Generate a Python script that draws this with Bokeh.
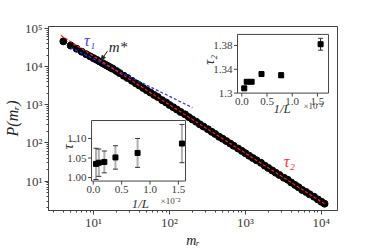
import numpy as np
from bokeh.plotting import figure
from bokeh.models import Range1d, LinearScale, FixedTicker, Arrow, NormalHead
from bokeh.core.properties import value
from bokeh.embed import file_html
from bokeh.resources import INLINE

# ---- main distribution P(m_r) ----
m_r = [4, 5, 6, 7, 8, 9, 10, 11, 12, 13, 14, 15, 16, 17, 18, 20, 22, 25, 28, 32,
       36, 40, 45, 50, 56, 63, 70, 80, 90, 100, 112, 125, 140, 160, 180, 200, 225,
       250, 280, 320, 360, 400, 450, 500, 560, 630, 700, 800, 900, 1000, 1120, 1250,
       1400, 1600, 1800, 2000, 2250, 2500, 2800, 3200, 3600, 4000, 4500, 5000, 5600,
       6300, 7000, 8000, 9000, 10000, 11000]
P_m = [45700, 35500, 29200, 24500, 21100, 18600, 16600, 15000, 13600, 12400, 11500,
       10600, 9890, 9230, 8710, 7670, 6760, 5750, 5010, 4220, 3630, 3200, 2750, 2400,
       2090, 1800, 1600, 1320, 1150, 989, 861, 750, 646, 560, 473, 412, 359, 309, 269,
       229, 195, 172, 145, 129, 112, 96.6, 84.1, 71.6, 61.7, 53.7, 46.2, 40.3, 35.1,
       30.2, 25.4, 22.1, 19.1, 16.6, 14.5, 12.3, 10.9, 9.23, 7.94, 6.92, 5.85, 5.19,
       4.52, 3.90, 3.31, 2.88, 2.57]

# power-law fits
tau1_fit, A1_fit, m1_range = 0.98, 10 ** 5.18, (5, 200)
tau2_fit, A2_fit, m2_range = 1.27, 10 ** 5.539, (3.7, 11000)

# ---- inset data ----
inv_L = [0.0488, 0.0977, 0.195, 0.391, 0.781, 1.5625]   # x 10^-2
tau1 = [1.035, 1.038, 1.040, 1.0515, 1.063, 1.087]
tau1_err = [0.040, 0.035, 0.028, 0.030, 0.037, 0.049]
tau2 = [1.308, 1.319, 1.319, 1.332, 1.330, 1.382]
tau2_err = [0.002, 0.002, 0.002, 0.003, 0.004, 0.010]

inv_ticks = [0.0, 0.5, 1.0, 1.5]
inv_tick_labels = ["0.0", "0.5", "1.0", "1.5"]
tau1_ticks = [1.00, 1.05, 1.10]
tau1_tick_labels = ["1.00", "1.05", "1.10"]
tau2_ticks = [1.30, 1.34, 1.38]
tau2_tick_labels = ["1.3", "1.34", "1.38"]

x_major = [10, 100, 1000, 10000]
y_major = [10, 100, 1000, 10000, 100000]
sup = {1: "¹", 2: "²", 3: "³", 4: "⁴", 5: "⁵"}

SERIF = "Liberation Serif"
TXT = "#3a3a3a"
AX = "#444444"

p = figure(frame_width=289, frame_height=184, x_axis_type="log", y_axis_type="log",
           x_range=Range1d(2.55, 16300), y_range=Range1d(1.70, 112000),
           output_backend="svg", toolbar_location=None,
           min_border_left=46, min_border_right=31, min_border_top=26,
           min_border_bottom=24)
p.grid.visible = False
p.outline_line_color = AX
p.background_fill_color = "white"

minor = [k * 10 ** e for e in range(0, 6) for k in range(2, 10)]
p.xaxis.ticker = FixedTicker(ticks=x_major, minor_ticks=minor)
p.yaxis.ticker = FixedTicker(ticks=y_major, minor_ticks=minor)
p.xaxis.major_label_overrides = {v: "10" + sup[int(round(np.log10(v)))] for v in x_major}
p.yaxis.major_label_overrides = {v: "10" + sup[int(round(np.log10(v)))] for v in y_major}
for ax in (p.xaxis, p.yaxis):
    ax.axis_line_color = AX
    ax.major_tick_line_color = AX
    ax.minor_tick_line_color = AX
    ax.major_tick_in = 0
    ax.minor_tick_in = 0
    ax.major_tick_out = 4
    ax.minor_tick_out = 2
    ax.major_label_text_font = SERIF
    ax.major_label_text_font_size = "13px"
    ax.major_label_text_color = TXT
    ax.major_label_standoff = 2
    ax.axis_label_text_font = SERIF
    ax.axis_label_text_font_style = "italic"
    ax.axis_label_text_font_size = "16px"
    ax.axis_label_text_color = "#222222"
    ax.axis_label_standoff = 1
p.xaxis.major_label_standoff = 0
p.xaxis.axis_label_standoff = 0
p.xaxis.axis_label_text_font_size = "14px"
p.xaxis.axis_label = "mᵣ"
p.yaxis.axis_label = "P(mᵣ)"

# data
p.scatter(m_r, P_m, size=7, color="black")

# fits
xf1 = np.geomspace(*m1_range, 40)
p.line(xf1, A1_fit * xf1 ** (-tau1_fit), color="#2a2aff", line_width=1.2, line_dash="3 2")
xf2 = np.geomspace(*m2_range, 80)
p.line(xf2, A2_fit * xf2 ** (-tau2_fit), color="#ff2020", line_width=1.2, line_dash="3 2")

p.text([8.9], [49000], text=["τ₁"], text_color="#4040ff", text_font=value(SERIF),
       text_font_style="italic", text_font_size="16px", text_align="center",
       text_baseline="middle")
p.text([3800], [32], text=["τ₂"], text_color="#ff3030", text_font=value(SERIF),
       text_font_style="italic", text_font_size="16px", text_align="center",
       text_baseline="middle")
p.text([21], [33000], text=["m*"], text_color="#222222", text_font=value(SERIF),
       text_font_style="italic", text_font_size="15px", text_align="center",
       text_baseline="middle")
p.add_layout(Arrow(x_start=15.3, y_start=25700, x_end=12.7, y_end=15100,
                   line_color="#222222", line_width=1,
                   end=NormalHead(size=4, fill_color="#222222", line_color="#222222")))

# ---- insets drawn with their own linear scales ----
p.extra_x_ranges = {}
p.extra_y_ranges = {}
p.extra_x_scales = {}
p.extra_y_scales = {}

def inset(name, box_x, box_y, fx, fy):
    span_x = (box_x[1] - box_x[0]) / (fx[1] - fx[0])
    sx = box_x[0] - fx[0] * span_x
    span_y = (box_y[1] - box_y[0]) / (fy[1] - fy[0])
    sy = box_y[0] - fy[0] * span_y
    p.extra_x_ranges[name + "x"] = Range1d(sx, sx + span_x)
    p.extra_y_ranges[name + "y"] = Range1d(sy, sy + span_y)
    p.extra_x_scales[name + "x"] = LinearScale()
    p.extra_y_scales[name + "y"] = LinearScale()
    return dict(x_range_name=name + "x", y_range_name=name + "y")

def draw_inset(kw, box_x, box_y, yvals, yerr, yticks, ylabels, ylab, ylab_y,
               ylab_off, lab_pos, err_color, err_width):
    p.quad(left=[box_x[0]], right=[box_x[1]], bottom=[box_y[0]], top=[box_y[1]],
           fill_color="white", line_color=AX, line_width=1, **kw)
    p.ray(inv_ticks, [box_y[0]] * len(inv_ticks), length=3.5, length_units="screen",
          angle=-np.pi / 2, line_color=AX, line_width=1, **kw)
    p.ray([box_x[0]] * len(yticks), yticks, length=3.5, length_units="screen",
          angle=np.pi, line_color=AX, line_width=1, **kw)
    p.text(inv_ticks, [box_y[0]] * len(inv_ticks), text=inv_tick_labels,
           text_font=value(SERIF), text_font_size="11px", text_color=TXT,
           text_align="center", text_baseline="top", y_offset=5, **kw)
    p.text([box_x[0]] * len(yticks), yticks, text=ylabels,
           text_font=value(SERIF), text_font_size="11px", text_color=TXT,
           text_align="right", text_baseline="middle", x_offset=-5, **kw)
    lo = [v - e for v, e in zip(yvals, yerr)]
    hi = [v + e for v, e in zip(yvals, yerr)]
    p.segment(inv_L, lo, inv_L, hi, line_color=err_color, line_width=err_width, **kw)
    p.scatter(inv_L + inv_L, lo + hi, marker="dash", size=5, line_color="#333333",
              line_width=1, **kw)
    p.scatter(inv_L, yvals, marker="square", size=5, color="black", **kw)
    p.text([box_x[0]], [ylab_y], text=[ylab], text_font=value(SERIF),
           text_font_style="italic", text_font_size="14px", text_color="#333333",
           text_align="center", text_baseline="middle", angle=np.pi / 2,
           x_offset=ylab_off, **kw)
    p.text([lab_pos[0]], [box_y[0]], text=["1/L"], text_font=value(SERIF),
           text_font_style="italic", text_font_size="13px", text_color="#333333",
           text_align="center", text_baseline="middle", y_offset=lab_pos[2], **kw)
    p.text([lab_pos[1]], [box_y[0]], text=["×10⁻²"], text_font=value(SERIF),
           text_font_size="9px", text_color="#444444",
           text_align="center", text_baseline="middle", y_offset=lab_pos[3], **kw)

# tau2 inset (upper right)
b2x, b2y = (-0.085, 1.72), (1.30, 1.3985)
kw2 = inset("t2", b2x, b2y, (0.654, 0.969), (0.638, 0.957))
draw_inset(kw2, b2x, b2y, tau2, tau2_err, tau2_ticks, tau2_tick_labels, "τ₂", 1.356,
           -28, (0.80, 1.42, 15, 13), "#222222", 1)

# tau1 inset (lower left)
b1x, b1y = (-0.03, 1.625), (0.991, 1.146)
kw1 = inset("t1", b1x, b1y, (0.149, 0.474), (0.16, 0.489))
draw_inset(kw1, b1x, b1y, tau1, tau1_err, tau1_ticks, tau1_tick_labels, "τ₁", 1.085,
           -23, (0.83, 1.36, 22, 20), "#b0b0b0", 2)

open("out.html", "w").write(file_html(p, INLINE))
